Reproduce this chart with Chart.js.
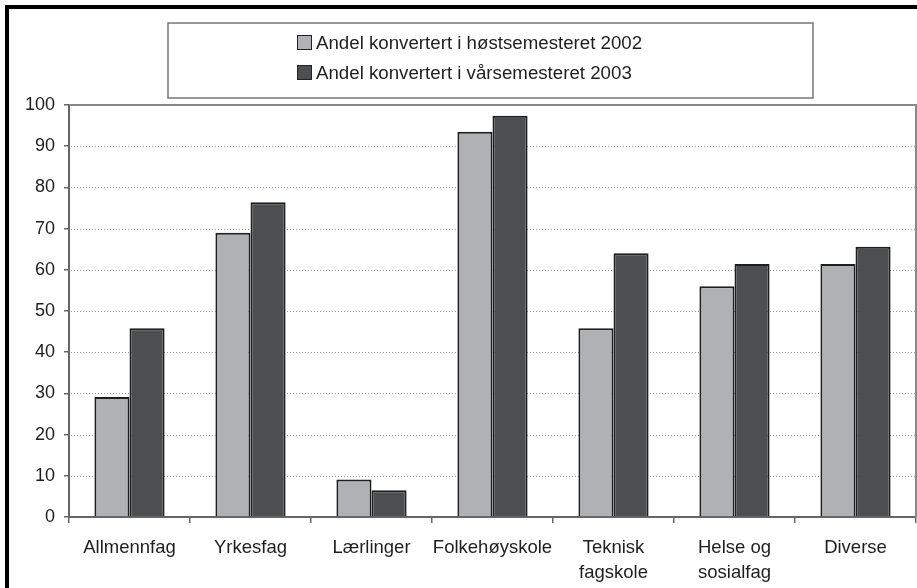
<!DOCTYPE html>
<html>
<head>
<meta charset="utf-8">
<script src="https://cdn.jsdelivr.net/npm/chart.js@4/dist/chart.umd.min.js"></script>
<style>
  html, body { margin: 0; padding: 0; background: #fff; }
  #wrap { width: 917px; height: 588px; position: relative; }
</style>
</head>
<body>
<div id="wrap"><canvas id="myChart" width="917" height="588"></canvas></div>
<script>
const categories = ["Allmennfag", "Yrkesfag", "Lærlinger", "Folkehøyskole", ["Teknisk", "fagskole"], ["Helse og", "sosialfag"], "Diverse"];
const seriesNames = ["Andel konvertert i høstsemesteret 2002", "Andel konvertert i vårsemesteret 2003"];
const host2002 = [29.1, 69.0, 9.1, 93.5, 45.8, 56.0, 61.4];
const var2003 = [45.8, 76.4, 6.5, 97.4, 64.0, 61.4, 65.6];
const yTicks = [0, 10, 20, 30, 40, 50, 60, 70, 80, 90, 100];

const FONT = "'Liberation Sans', Arial, sans-serif";
const lightGrey = "#b0b1b5";
const darkGrey = "#4d4e50";

// frame, dotted grid, plot border and the boxed legend
const decor = {
    id: "decor",
    beforeDraw(chart) {
        const ctx = chart.ctx;
        ctx.save();
        ctx.fillStyle = "#fff";
        ctx.fillRect(0, 0, chart.width, chart.height);
        ctx.fillStyle = "#000";
        ctx.fillRect(5, 5, chart.width - 5, 4);
        ctx.fillRect(5, 5, 4, chart.height - 5);
        ctx.restore();
    },
    beforeDatasetsDraw(chart) {
        const ctx = chart.ctx;
        const area = chart.chartArea;
        const y = chart.scales.y;
        ctx.save();
        ctx.strokeStyle = "#9a9a9a";
        ctx.lineWidth = 1;
        ctx.setLineDash([1, 2]);
        yTicks.forEach(v => {
            if (v === 0 || v === 100) return;
            const py = Math.round(y.getPixelForValue(v)) + 0.5;
            ctx.beginPath();
            ctx.moveTo(area.left + 2, py);
            ctx.lineTo(area.right, py);
            ctx.stroke();
        });
        ctx.restore();
    },
    afterDraw(chart) {
        const ctx = chart.ctx;
        const area = chart.chartArea;
        ctx.save();
        // plot area top and right edges
        ctx.strokeStyle = "#8a8a8a";
        ctx.lineWidth = 2;
        ctx.beginPath();
        ctx.moveTo(area.left, area.top);
        ctx.lineTo(area.right, area.top);
        ctx.lineTo(area.right, area.bottom);
        ctx.stroke();

        // legend box
        ctx.fillStyle = "#fff";
        ctx.fillRect(168, 23, 645, 75);
        ctx.strokeStyle = "#777";
        ctx.lineWidth = 1.5;
        ctx.strokeRect(168, 23, 645, 75);
        ctx.font = "18.7px " + FONT;
        ctx.textBaseline = "middle";
        ctx.textAlign = "left";
        chart.data.datasets.forEach((ds, i) => {
            const cy = 43 + i * 30;
            ctx.fillStyle = ds.backgroundColor;
            ctx.fillRect(297.5, cy - 7.5, 14, 14);
            ctx.strokeStyle = "#222";
            ctx.lineWidth = 1;
            ctx.strokeRect(297.5, cy - 7.5, 14, 14);
            ctx.fillStyle = "#1e1e1e";
            ctx.fillText(ds.label, 316, cy + 1);
        });
        ctx.restore();
    }
};

new Chart(document.getElementById("myChart"), {
    type: "bar",
    data: {
        labels: categories,
        datasets: [
            {
                label: seriesNames[0],
                data: host2002,
                backgroundColor: lightGrey,
                borderColor: "#1e1e1e",
                borderWidth: 2
            },
            {
                label: seriesNames[1],
                data: var2003,
                backgroundColor: darkGrey,
                borderColor: "#1e1e1e",
                borderWidth: 2
            }
        ]
    },
    options: {
        responsive: false,
        animation: false,
        events: [],
        layout: { padding: { top: 105, right: 1, left: 0, bottom: 0 } },
        categoryPercentage: 0.58,
        barPercentage: 1.0,
        plugins: {
            legend: { display: false },
            tooltip: { enabled: false }
        },
        scales: {
            x: {
                offset: true,
                grid: {
                    display: true,
                    offset: true,
                    drawOnChartArea: false,
                    tickLength: 6,
                    tickColor: "#666",
                    lineWidth: 1.5
                },
                border: { color: "#666", width: 2 },
                ticks: {
                    color: "#1e1e1e",
                    font: { family: FONT, size: 18.5, lineHeight: 1.38 },
                    padding: 12,
                    maxRotation: 0,
                    autoSkip: false
                },
                afterFit(scale) { scale.height = 71; }
            },
            y: {
                min: 0,
                max: 100,
                afterBuildTicks(scale) { scale.ticks = yTicks.map(v => ({ value: v })); },
                grid: {
                    display: true,
                    drawOnChartArea: false,
                    tickLength: 5,
                    tickColor: "#666",
                    lineWidth: 1.5
                },
                border: { color: "#666", width: 2 },
                ticks: {
                    color: "#1e1e1e",
                    font: { family: FONT, size: 18 },
                    padding: 9
                },
                afterFit(scale) { scale.width = 69; }
            }
        }
    },
    plugins: [decor]
});
</script>
</body>
</html>
